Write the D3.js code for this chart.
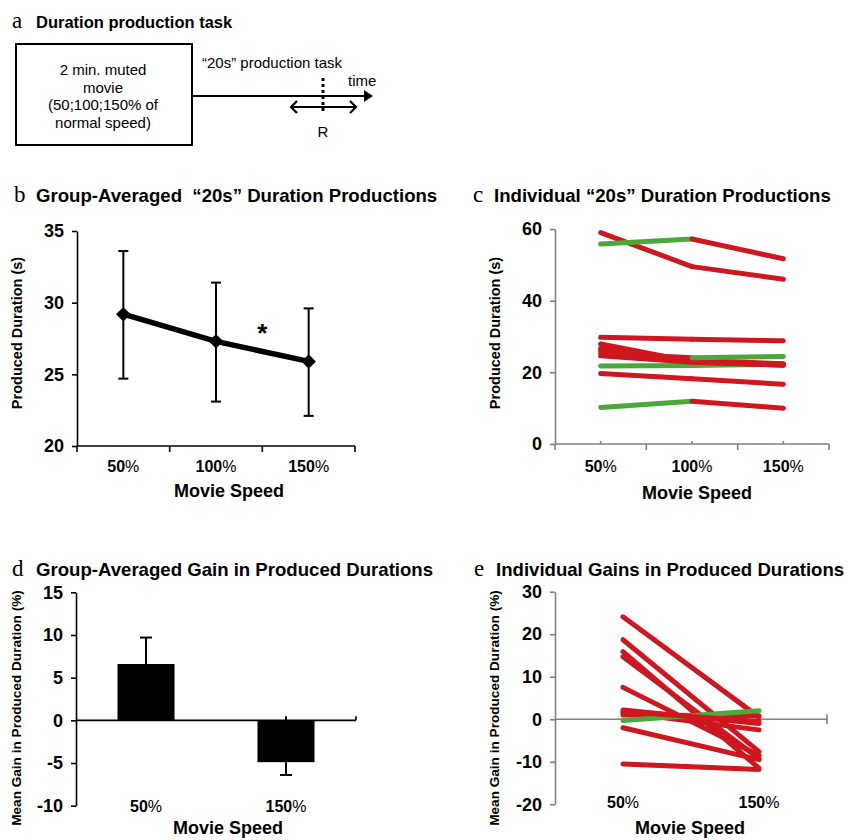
<!DOCTYPE html>
<html>
<head>
<meta charset="utf-8">
<script src="https://cdn.jsdelivr.net/npm/d3@7"></script>
<style>
  body { margin: 0; background: #fff; }
  text { font-family: "Liberation Sans", Arial, sans-serif; }
</style>
</head>
<body>
<svg id="fig" width="848" height="840"></svg>
<script>
// ---- values ----
const speeds = ["50%", "100%", "150%"];
const groupMean = [29.2, 27.3, 25.9];
const groupLow = [24.7, 23.1, 22.1];
const groupHigh = [33.6, 31.4, 29.6];
const durTicks = [20, 25, 30, 35];

// one row per participant: produced duration (s) at 50 / 100 / 150 %
const individualDur = [
    [59.0, 49.5, 46.0],
    [55.8, 57.2, 51.7],
    [29.8, 29.2, 28.8],
    [21.8, 21.9, 22.3],
    [27.9, 23.0, 22.0],
    [26.7, 23.2, 22.2],
    [26.0, 23.4, 22.4],
    [24.6, 22.8, 22.0],
    [25.3, 24.1, 24.4],
    [19.7, 18.2, 16.7],
    [10.2, 11.9, 10.0]
];
const indDurTicks = [0, 20, 40, 60];

const gainSpeeds = ["50%", "150%"];
const gainMean = [6.6, -4.9];
const gainErr = [9.7, -6.4];
const gainTicks = [-10, -5, 0, 5, 10, 15];

// one row per participant: gain (%) at 50 / 150 %
const individualGain = [
    [24.1, 0.5],
    [18.7, -7.6],
    [15.9, -11.5],
    [14.7, -9.2],
    [7.5, -8.5],
    [2.2, -1.0],
    [1.6, -2.5],
    [1.0, 0.8],
    [-2.0, -9.5],
    [-10.5, -11.8],
    [-0.3, 2.0],
    [1.8, -0.5]
];
const indGainTicks = [-20, -10, 0, 10, 20, 30];

const RED = "#cf171f", GREEN = "#4ca83a", GREY = "#808080";
const svg = d3.select("#fig");

// ---- helpers ----
function panelTitle(lx, tx, y, letter, title, size) {
    svg.append("text").attr("x", lx).attr("y", y)
        .style("font-family", "'Liberation Serif', serif").style("font-size", "23px")
        .text(letter);
    svg.append("text").attr("x", tx).attr("y", y)
        .attr("xml:space", "preserve")
        .style("white-space", "pre")
        .style("font-size", (size || 18.6) + "px").style("font-weight", "bold")
        .text(title);
}

function yAxis(scale, x, ticks, color) {
    const g = svg.append("g")
        .attr("transform", `translate(${x},0)`)
        .call(d3.axisLeft(scale).tickValues(ticks).tickSize(5).tickSizeOuter(0)
            .tickPadding(8).tickFormat(d => String(d)));
    g.selectAll("path, line").attr("stroke", color).attr("stroke-width", 1.6);
    g.selectAll("text").attr("fill", "#000")
        .style("font-size", "18px").style("font-weight", "bold")
        .style("font-family", "'Liberation Sans', Arial, sans-serif");
    return g;
}

function yTitle(x, y, label, size) {
    svg.append("text")
        .attr("transform", `translate(${x},${y}) rotate(-90)`)
        .attr("text-anchor", "middle")
        .style("font-size", size + "px").style("font-weight", "bold")
        .text(label);
}

// Excel-like category axis: ticks on the band boundaries
function bandAxis(x, y, color, centerTicks) {
    const [x0, x1] = x.range();
    svg.append("line").attr("x1", x0).attr("x2", x1).attr("y1", y).attr("y2", y)
        .attr("stroke", color).attr("stroke-width", 1.6);
    const bounds = x.domain().map(d => x(d)).concat([x1]);
    svg.selectAll(null).data(bounds).enter().append("line")
        .attr("x1", d => d).attr("x2", d => d)
        .attr("y1", y).attr("y2", y + 6)
        .attr("stroke", color).attr("stroke-width", 1.6);
    if (centerTicks) {
        svg.selectAll(null).data(x.domain()).enter().append("line")
            .attr("x1", d => x(d) + x.bandwidth() / 2).attr("x2", d => x(d) + x.bandwidth() / 2)
            .attr("y1", y - 3).attr("y2", y)
            .attr("stroke", color).attr("stroke-width", 1.6);
    }
}

function catLabels(x, y, labels) {
    svg.selectAll(null).data(labels).enter().append("text")
        .attr("x", d => x(d) + x.bandwidth() / 2)
        .attr("y", y)
        .attr("text-anchor", "middle")
        .style("font-size", "16px")
        .each(function (d) {
            const t = d3.select(this);
            t.append("tspan").style("font-weight", "bold").text(d.replace("%", ""));
            t.append("tspan").style("font-weight", "normal").text("%");
        });
}

function xTitle(x, y) {
    svg.append("text").attr("x", x).attr("y", y)
        .attr("text-anchor", "middle")
        .style("font-size", "18px").style("font-weight", "bold")
        .text("Movie Speed");
}

// ---- a: task diagram ----
panelTitle(12, 36, 28, "a", "Duration production task", 16.5);
svg.append("rect").attr("x", 16).attr("y", 44).attr("width", 176).attr("height", 101)
    .attr("fill", "none").attr("stroke", "#000").attr("stroke-width", 2);
["2 min. muted", "movie", "(50;100;150% of", "normal speed)"].forEach((s, i) => {
    svg.append("text").attr("x", 103).attr("y", 75 + i * 17.7)
        .attr("text-anchor", "middle").style("font-size", "15px").text(s);
});
svg.append("line").attr("x1", 192).attr("x2", 365).attr("y1", 96).attr("y2", 96)
    .attr("stroke", "#000").attr("stroke-width", 2);
svg.append("path").attr("d", "M364,90 L373,96 L364,102 Z").attr("fill", "#000");
svg.append("text").attr("x", 202).attr("y", 68).style("font-size", "15px")
    .text("\u201c20s\u201d production task");
svg.append("text").attr("x", 348).attr("y", 86).style("font-size", "15px").text("time");
svg.append("line").attr("x1", 323).attr("x2", 323).attr("y1", 78).attr("y2", 113)
    .attr("stroke", "#000").attr("stroke-width", 3).attr("stroke-dasharray", "3,3");
svg.append("line").attr("x1", 291).attr("x2", 356).attr("y1", 107).attr("y2", 107)
    .attr("stroke", "#000").attr("stroke-width", 2.2);
svg.append("path").attr("d", "M297,101 L291,107 L297,113 M350,101 L356,107 L350,113")
    .attr("fill", "none").attr("stroke", "#000").attr("stroke-width", 2.2);
svg.append("text").attr("x", 323).attr("y", 137).attr("text-anchor", "middle")
    .style("font-size", "15px").text("R");

// ---- b: group averaged durations ----
panelTitle(14, 36, 202, "b", "Group-Averaged  \u201c20s\u201d Duration Productions");
const xB = d3.scaleBand(speeds, [77, 355]);
const yB = d3.scaleLinear([20, 35], [446, 231]);
const cxB = d => xB(d) + xB.bandwidth() / 2;
yAxis(yB, 77, durTicks, "#000");
bandAxis(xB, 446, "#000", false);
catLabels(xB, 472, speeds);
xTitle(229, 497);
yTitle(22, 333, "Produced Duration (s)", 14.5);

const bErr = svg.append("g").attr("stroke", "#000").attr("stroke-width", 2);
speeds.forEach((s, i) => {
    bErr.append("line").attr("x1", cxB(s)).attr("x2", cxB(s))
        .attr("y1", yB(groupLow[i])).attr("y2", yB(groupHigh[i]));
    [groupLow[i], groupHigh[i]].forEach(v => {
        bErr.append("line").attr("x1", cxB(s) - 5).attr("x2", cxB(s) + 5)
            .attr("y1", yB(v)).attr("y2", yB(v));
    });
});
svg.append("path")
    .datum(speeds.map((s, i) => [cxB(s), yB(groupMean[i])]))
    .attr("d", d3.line())
    .attr("fill", "none").attr("stroke", "#000").attr("stroke-width", 5.5);
svg.selectAll(".diamond").data(speeds).enter().append("path")
    .attr("class", "diamond")
    .attr("d", d3.symbol(d3.symbolSquare, 105))
    .attr("transform", (d, i) => `translate(${cxB(d)},${yB(groupMean[i])}) rotate(45)`)
    .attr("fill", "#000");
svg.append("text").attr("x", xB("150%")).attr("y", 342).attr("text-anchor", "middle")
    .style("font-size", "26px").style("font-weight", "bold").text("*");

// ---- c: individual durations ----
panelTitle(473, 494, 202, "c", "Individual \u201c20s\u201d Duration Productions");
const xC = d3.scaleBand(speeds, [555, 829]);
const yC = d3.scaleLinear([0, 60], [444, 229]);
const cxC = d => xC(d) + xC.bandwidth() / 2;
yAxis(yC, 555, indDurTicks, GREY);
bandAxis(xC, 444, GREY, true);
catLabels(xC, 472, speeds);
xTitle(697, 499);
yTitle(500, 333, "Produced Duration (s)", 14.5);

const cLines = svg.append("g").attr("stroke-width", 5).attr("stroke-linecap", "round");
individualDur.forEach(row => {
    d3.pairs(row.map((v, i) => [cxC(speeds[i]), yC(v), v])).forEach(([a, b]) => {
        cLines.append("line")
            .attr("x1", a[0]).attr("y1", a[1]).attr("x2", b[0]).attr("y2", b[1])
            .attr("stroke", b[2] > a[2] ? GREEN : RED);
    });
});

// ---- d: group averaged gain ----
panelTitle(12, 36, 576, "d", "Group-Averaged Gain in Produced Durations");
const xD = d3.scaleBand(gainSpeeds, [76, 356]);
const yD = d3.scaleLinear([-10, 15], [805.7, 592.3]);
const cxD = d => xD(d) + xD.bandwidth() / 2;
yAxis(yD, 76, gainTicks, "#000");
yTitle(21, 708, "Mean Gain in Produced Duration (%)", 13.6);

const barW = 57;
svg.selectAll(".bar").data(gainSpeeds).enter().append("rect")
    .attr("class", "bar")
    .attr("x", d => cxD(d) - barW / 2)
    .attr("width", barW)
    .attr("y", (d, i) => yD(Math.max(0, gainMean[i])))
    .attr("height", (d, i) => Math.abs(yD(gainMean[i]) - yD(0)))
    .attr("fill", "#000");
const dErr = svg.append("g").attr("stroke", "#000").attr("stroke-width", 2);
gainSpeeds.forEach((s, i) => {
    dErr.append("line").attr("x1", cxD(s)).attr("x2", cxD(s))
        .attr("y1", yD(gainMean[i])).attr("y2", yD(gainErr[i]));
    dErr.append("line").attr("x1", cxD(s) - 6).attr("x2", cxD(s) + 6)
        .attr("y1", yD(gainErr[i])).attr("y2", yD(gainErr[i]));
    dErr.append("line").attr("x1", cxD(s)).attr("x2", cxD(s))
        .attr("y1", yD(0) - 4).attr("y2", yD(0));
});
svg.append("line").attr("x1", 76).attr("x2", 356).attr("y1", yD(0)).attr("y2", yD(0))
    .attr("stroke", "#000").attr("stroke-width", 1.6);
svg.append("line").attr("x1", 356).attr("x2", 356).attr("y1", yD(0) - 4).attr("y2", yD(0))
    .attr("stroke", "#000").attr("stroke-width", 1.6);
catLabels(xD, 812, gainSpeeds);
xTitle(228, 834);

// ---- e: individual gains ----
panelTitle(474, 496, 576, "e", "Individual Gains in Produced Durations");
const xE = d3.scaleBand(gainSpeeds, [555, 827]);
const yE = d3.scaleLinear([-20, 30], [804.3, 591.7]);
const cxE = d => xE(d) + xE.bandwidth() / 2;
yAxis(yE, 555, indGainTicks, GREY);
yTitle(499, 708, "Mean Gain in Produced Duration (%)", 13.6);
svg.append("line").attr("x1", 555).attr("x2", 827).attr("y1", yE(0)).attr("y2", yE(0))
    .attr("stroke", GREY).attr("stroke-width", 1.6);
svg.append("line").attr("x1", 827).attr("x2", 827).attr("y1", yE(0) - 5).attr("y2", yE(0) + 5)
    .attr("stroke", GREY).attr("stroke-width", 1.6);

svg.append("g").attr("stroke-width", 5).attr("stroke-linecap", "round")
    .selectAll("line").data(individualGain).enter().append("line")
    .attr("x1", cxE(gainSpeeds[0])).attr("x2", cxE(gainSpeeds[1]))
    .attr("y1", d => yE(d[0])).attr("y2", d => yE(d[1]))
    .attr("stroke", d => d[1] > d[0] ? GREEN : RED);
catLabels(xE, 808, gainSpeeds);
xTitle(690, 834);
</script>
</body>
</html>
